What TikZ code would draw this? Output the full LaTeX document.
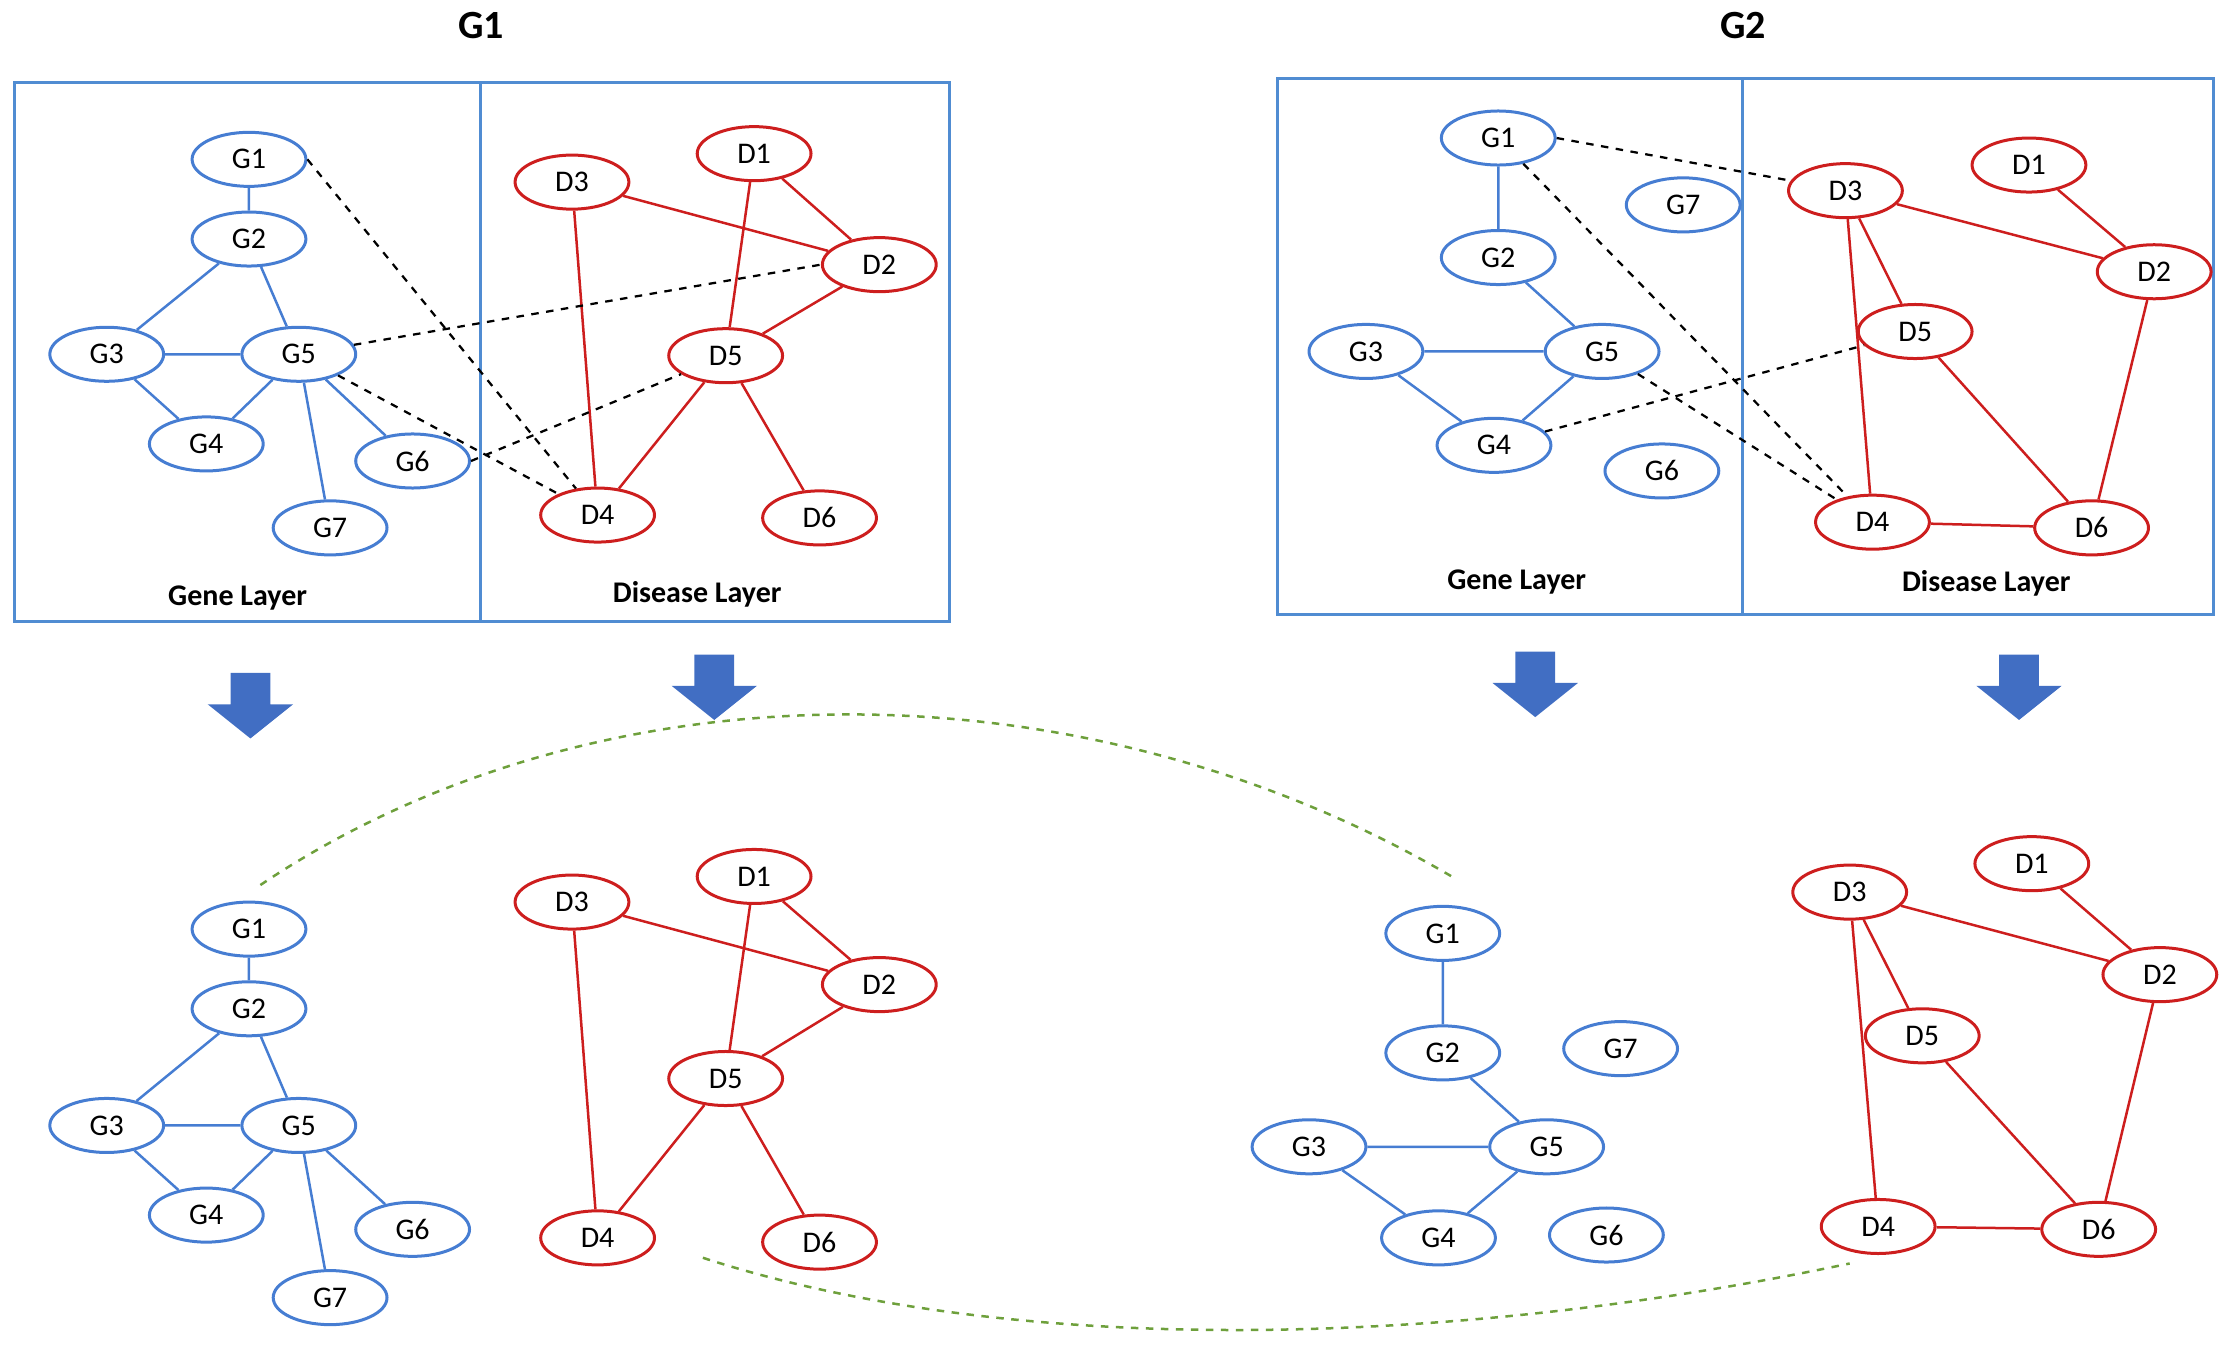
\documentclass[tikz,border=0pt]{standalone}
\usepackage{fontspec}
\setmainfont{Carlito}
\usetikzlibrary{shapes.geometric}
\definecolor{gb}{RGB}{70,125,210}
\definecolor{dr}{RGB}{205,30,30}
\definecolor{bx}{RGB}{80,140,210}
\definecolor{ar}{RGB}{65,110,195}
\definecolor{gr}{RGB}{110,160,60}
\newcommand{\blockarrow}[1]{\fill[ar,shift={(#1)}] (-14,-22) -- (14,-22) -- (14,0) -- (30,0) -- (0,24) -- (-30,0) -- (-14,0) -- cycle;}
\begin{document}
\begin{tikzpicture}[x=0.02cm,y=-0.02cm,
 g/.style={ellipse,draw=gb,line width=1.2pt,minimum width=1.6cm,minimum height=0.76cm,inner sep=0pt,font=\fontsize{12}{14}\selectfont},
 d/.style={g,draw=dr},
 ge/.style={draw=gb,line width=1pt},
 de/.style={draw=dr,line width=1pt},
 dd/.style={draw=black,dashed,line width=0.9pt},
 box/.style={draw=bx,line width=1.2pt},
 lab/.style={font=\fontsize{12}{14}\selectfont\bfseries},
 ttl/.style={font=\fontsize{16}{18}\selectfont\bfseries}]
\useasboundingbox (0,0) rectangle (1568,945);
% titles
\node[ttl] (t1) at (338,18) {G1};
\node[ttl] (t2) at (1225,18) {G2};
% boxes
\draw[box] (10,58) rectangle (667,437); \draw[box] (338,58) -- (338,437);
\draw[box] (898,55) rectangle (1556,432); \draw[box] (1225,55) -- (1225,432);
\node[lab] (l1) at (167,420) {Gene Layer};
\node[lab] (l2) at (490,418) {Disease Layer};
\node[lab] (l3) at (1066,409) {Gene Layer};
\node[lab] (l4) at (1396,410) {Disease Layer};
% top-left
\node[g] (a1) at (175,112) {G1}; \node[g] (a2) at (175,168) {G2};
\node[g] (a3) at (75,249) {G3}; \node[g] (a5) at (210,249) {G5};
\node[g] (a4) at (145,312) {G4}; \node[g] (a6) at (290,324) {G6};
\node[g] (a7) at (232,371) {G7};
\node[d] (b1) at (530,108) {D1}; \node[d] (b3) at (402,128) {D3};
\node[d] (b2) at (618,186) {D2}; \node[d] (b5) at (510,250) {D5};
\node[d] (b4) at (420,362) {D4}; \node[d] (b6) at (576,364) {D6};
\draw[ge] (a1)--(a2) (a2)--(a3) (a2)--(a5) (a3)--(a5) (a3)--(a4) (a4)--(a5) (a5)--(a6) (a5)--(a7);
\draw[de] (b3)--(b2) (b1)--(b2) (b1)--(b5) (b5)--(b2) (b3)--(b4) (b4)--(b5) (b5)--(b6);
\draw[dd] (a1.east)--(b4) (a5)--(b2.west) (a5)--(b4) (a6.east)--(b5);
% top-right
\node[g] (c1) at (1053,97) {G1}; \node[g] (c7) at (1183,144) {G7};
\node[g] (c2) at (1053,181) {G2}; \node[g] (c3) at (960,247) {G3};
\node[g] (c5) at (1126,247) {G5}; \node[g] (c4) at (1050,313) {G4};
\node[g] (c6) at (1168,331) {G6};
\node[d] (e1) at (1426,116) {D1}; \node[d] (e3) at (1297,134) {D3};
\node[d] (e2) at (1514,191) {D2}; \node[d] (e5) at (1346,233) {D5};
\node[d] (e4) at (1316,367) {D4}; \node[d] (e6) at (1470,371) {D6};
\draw[ge] (c1)--(c2) (c2)--(c5) (c3)--(c5) (c3)--(c4) (c4)--(c5);
\draw[de] (e3)--(e2) (e1)--(e2) (e3)--(e5) (e3)--(e4) (e5)--(e6) (e4)--(e6) (e2)--(e6);
\draw[dd] (c1.east)--(e3) (c1)--(e4) (c5)--(e4) (c4)--(e5);
% arrows
\blockarrow{176,495}
\blockarrow{502,482}
\blockarrow{1079,480}
\blockarrow{1419,482}
% bottom-left
\node[g] (f1) at (175,653) {G1}; \node[g] (f2) at (175,709) {G2};
\node[g] (f3) at (75,791) {G3}; \node[g] (f5) at (210,791) {G5};
\node[g] (f4) at (145,854) {G4}; \node[g] (f6) at (290,864) {G6};
\node[g] (f7) at (232,912) {G7};
\node[d] (h1) at (530,616) {D1}; \node[d] (h3) at (402,634) {D3};
\node[d] (h2) at (618,692) {D2}; \node[d] (h5) at (510,758) {D5};
\node[d] (h4) at (420,870) {D4}; \node[d] (h6) at (576,873) {D6};
\draw[ge] (f1)--(f2) (f2)--(f3) (f2)--(f5) (f3)--(f5) (f3)--(f4) (f4)--(f5) (f5)--(f6) (f5)--(f7);
\draw[de] (h3)--(h2) (h1)--(h2) (h1)--(h5) (h5)--(h2) (h3)--(h4) (h4)--(h5) (h5)--(h6);
% bottom-right
\node[g] (k1) at (1014,656) {G1}; \node[g] (k2) at (1014,740) {G2};
\node[g] (k7) at (1139,737) {G7}; \node[g] (k3) at (920,806) {G3};
\node[g] (k5) at (1087,806) {G5}; \node[g] (k4) at (1011,870) {G4};
\node[g] (k6) at (1129,868) {G6};
\node[d] (m1) at (1428,607) {D1}; \node[d] (m3) at (1300,627) {D3};
\node[d] (m2) at (1518,685) {D2}; \node[d] (m5) at (1351,728) {D5};
\node[d] (m4) at (1320,862) {D4}; \node[d] (m6) at (1475,864) {D6};
\draw[ge] (k1)--(k2) (k2)--(k5) (k3)--(k5) (k3)--(k4) (k4)--(k5);
\draw[de] (m3)--(m2) (m1)--(m2) (m3)--(m5) (m3)--(m4) (m5)--(m6) (m4)--(m6) (m2)--(m6);
% green dashed
\coordinate (p1) at (183,622); \coordinate (p2) at (1022,617);
\coordinate (q1) at (494,884); \coordinate (q2) at (1300,888);
\draw[gr,dashed,line width=1pt] (p1) .. controls (420,463) and (760,463) .. (p2);
\draw[gr,dashed,line width=1pt] (q1) .. controls (700,951) and (1000,951) .. (q2);
\end{tikzpicture}
\end{document}
